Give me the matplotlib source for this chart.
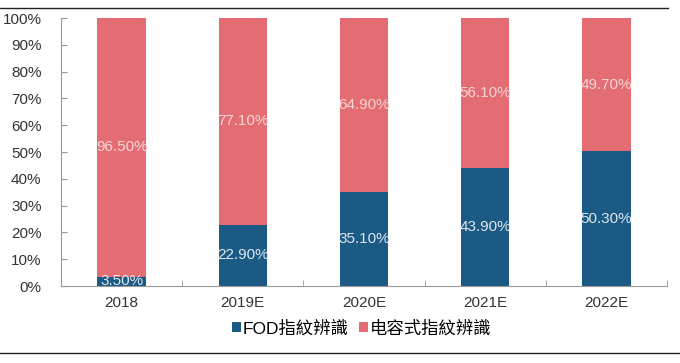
import matplotlib
matplotlib.use("Agg")
import matplotlib.pyplot as plt
from matplotlib.lines import Line2D
import numpy as np

categories = ["2018", "2019E", "2020E", "2021E", "2022E"]
fod = [3.5, 22.9, 35.1, 43.9, 50.3]
cap = [96.5, 77.1, 64.9, 56.1, 49.7]
series_names = ["FOD指紋辨識", "电容式指紋辨識"]

blue = "#1C5A86"
pink = "#E36D72"
fam = ["Liberation Sans", "Noto Sans CJK TC", "DejaVu Sans"]
plt.rcParams['font.family'] = fam

fig = plt.figure(figsize=(6.8, 3.63), dpi=100)
ax = fig.add_axes([61/680, 1-286/363, 606/680, (286-18)/363])

x = np.arange(len(categories))
w = 0.4
ax.bar(x, fod, w, color=blue, label=series_names[0])
ax.bar(x, cap, w, bottom=fod, color=pink, label=series_names[1])

for i in range(len(x)):
    ax.text(x[i], fod[i]/2, f"{fod[i]:.2f}%", ha="center", va="center",
            color="#DDE6EE", fontsize=11)
    ax.text(x[i], fod[i] + cap[i]/2, f"{cap[i]:.2f}%", ha="center", va="center",
            color="#F6D6D6", fontsize=11)

ax.set_xlim(-0.5, len(x)-0.5)
ax.set_ylim(0, 100)
ax.set_yticks(np.arange(0, 101, 10))
ax.set_yticklabels([f"{v}%" for v in range(0, 101, 10)], fontsize=11, color="#333333")
ax.set_xticks(x)
ax.set_xticklabels(categories, fontsize=11, color="#333333")
ax.set_xticks(np.arange(-0.5, len(x), 1), minor=True)
ax.tick_params(axis="x", which="major", length=0, pad=7)
ax.tick_params(axis="x", which="minor", length=4, direction="in", color="#999999")
ax.tick_params(axis="y", length=4, direction="in", color="#999999", pad=14)
for s in ["top", "right"]:
    ax.spines[s].set_visible(False)
for s in ["left", "bottom"]:
    ax.spines[s].set_color("#999999")
    ax.spines[s].set_linewidth(0.8)

fig.add_artist(Line2D([0, 668/680], [1-8/363, 1-8/363], color="#222222", lw=1))
fig.add_artist(Line2D([0, 1], [1-353/363, 1-353/363], color="#222222", lw=1))

leg = fig.legend(loc="center", bbox_to_anchor=(0.532, 1-328/363), ncol=2, frameon=False,
                 handlelength=0.5, handleheight=0.5, handletextpad=0.1, columnspacing=0.6,
                 prop={"family": fam, "size": 12.5})

fig.savefig("out.png", dpi=100)
